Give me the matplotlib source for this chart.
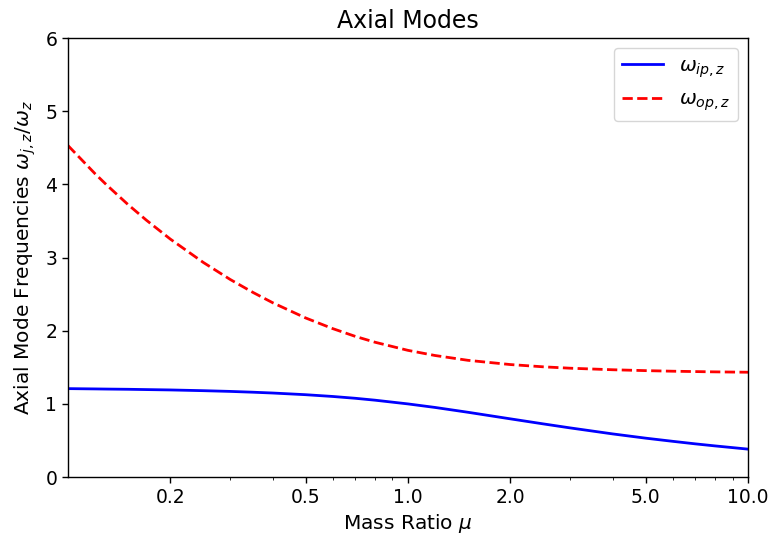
import matplotlib
matplotlib.use("Agg")
import matplotlib.pyplot as plt
from matplotlib.ticker import FixedLocator, FixedFormatter, NullFormatter

# Mass ratio values and read-off frequencies
mu = [0.1, 0.12, 0.13, 0.15, 0.17, 0.2, 0.25, 0.3, 0.35, 0.4, 0.5, 0.6, 0.7, 0.8,
      1.0, 1.2, 1.5, 2.0, 2.5, 3.0, 4.0, 5.0, 6.0, 7.0, 8.0, 10.0]
w_ip = [1.209, 1.205, 1.203, 1.200, 1.196, 1.191, 1.181, 1.171, 1.160, 1.149, 1.126,
        1.102, 1.077, 1.051, 1.000, 0.952, 0.886, 0.796, 0.727, 0.672, 0.590, 0.532,
        0.489, 0.454, 0.426, 0.382]
w_op = [4.532, 4.149, 3.992, 3.727, 3.512, 3.253, 2.934, 2.701, 2.524, 2.383, 2.175,
        2.030, 1.923, 1.843, 1.732, 1.662, 1.596, 1.538, 1.507, 1.488, 1.467, 1.455,
        1.447, 1.442, 1.438, 1.433]

xticks = [0.2, 0.5, 1.0, 2.0, 5.0, 10.0]
xticklabels = ["0.2", "0.5", "1.0", "2.0", "5.0", "10.0"]

plt.rcParams['font.family'] = ['DejaVu Sans']
fig = plt.figure(figsize=(7.72, 5.44), dpi=100)
ax = fig.add_axes([0.088, 0.123, 0.881, 0.807])

ax.plot(mu, w_ip, color='blue', lw=2.0, label=r'$\omega_{ip,z}$')
ax.plot(mu, w_op, color='red', lw=2.0, ls='--', label=r'$\omega_{op,z}$')

ax.set_xscale('log')
ax.set_xlim(0.1, 10.0)
ax.set_ylim(0, 6)
ax.xaxis.set_major_locator(FixedLocator(xticks))
ax.xaxis.set_major_formatter(FixedFormatter(xticklabels))
ax.xaxis.set_minor_formatter(NullFormatter())
ax.tick_params(labelsize=13.5, length=4.2, width=1.0)
ax.tick_params(which='minor', length=2.4)
for s in ax.spines.values():
    s.set_linewidth(1.0)

ax.set_title('Axial Modes', fontsize=17, pad=7)
ax.set_xlabel(r'Mass Ratio $\mu$', fontsize=14.5, labelpad=4)
ax.set_ylabel(r'Axial Mode Frequencies $\omega_{j,z}/\omega_z$', fontsize=14.5, labelpad=5)
ax.legend(loc='upper right', fontsize=14.5, handlelength=2.0)

fig.savefig('out.png', dpi=100)
